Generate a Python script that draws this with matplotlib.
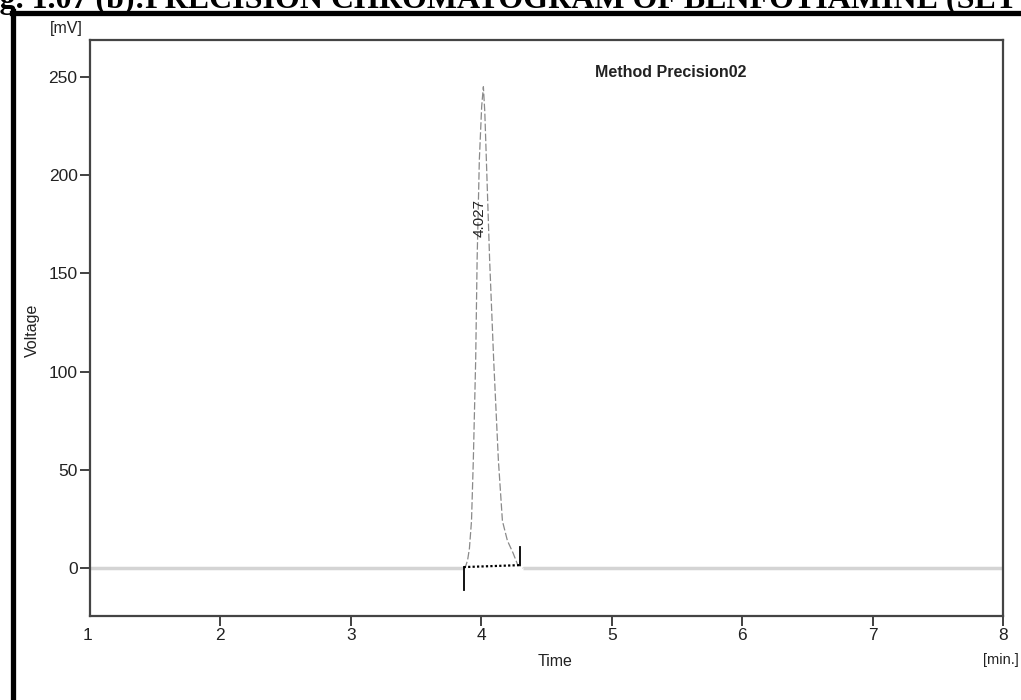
import matplotlib
matplotlib.use('Agg')
import matplotlib.pyplot as plt
from matplotlib import font_manager

# chromatogram trace (time in min, signal in mV)
times = [1.0, 3.865, 3.878, 3.895, 3.909, 3.925, 3.939, 3.957, 3.968, 3.985,
         4.003, 4.016, 4.027, 4.039, 4.064, 4.095, 4.131, 4.162, 4.200,
         4.244, 4.277, 4.32, 8.0]
volts = [0.0, 0.0, 0.5, 4.0, 10.0, 24.0, 55.0, 105.9, 156.8, 207.7,
         235.0, 245.0, 232.0, 207.7, 156.8, 105.9, 55.0, 24.0, 14.0,
         7.6, 2.0, 0.0, 0.0]

# integration marks
peak_start = 3.865
peak_end = 4.30
base_start = 0.5
base_end = 1.5
peak_label = '4.027'
peak_label_pos = (3.988, 178)

xticks = [2, 3, 4, 5, 6, 7, 8]
yticks = [0, 50, 100, 150, 200, 250]

names = set(f.name for f in font_manager.fontManager.ttflist)
narrow = 'Liberation Sans Narrow' if 'Liberation Sans Narrow' in names else 'Liberation Sans'

fig = plt.figure(figsize=(10.21, 7.00), dpi=100)

# scanned page caption, cut off at the top
fig.text(-0.028, 1 - 8 / 700, 'Fig. 1.07 (b):PRECISION CHROMATOGRAM OF BENFOTIAMINE (SET 2)',
         family='Liberation Serif', weight='bold', fontsize=23, va='baseline', ha='left')

# thick frame of the scanned page
fig.add_artist(plt.Line2D([12 / 1021, 1.0], [1 - 12.5 / 700, 1 - 12.5 / 700],
                          color='black', lw=3.8, transform=fig.transFigure))
fig.add_artist(plt.Line2D([12.5 / 1021, 12.5 / 1021], [0.0, 1 - 10.5 / 700],
                          color='black', lw=3.8, transform=fig.transFigure))

ax = fig.add_axes([90 / 1021, 1 - 616 / 700, 913 / 1021, 576 / 700])

n = len(times)
i0 = 1
i1 = n - 2
# flat baseline parts, light grey
ax.plot(times[:i0 + 1], volts[:i0 + 1], color='#d4d4d4', lw=2.5, solid_capstyle='butt')
ax.plot(times[i1:], volts[i1:], color='#d4d4d4', lw=2.5, solid_capstyle='butt')
# the peak, drawn faint and broken as in the scan
ax.plot(times[i0:i1 + 1], volts[i0:i1 + 1], color='#8a8a8a', lw=0.9, ls=(0, (6, 2)))

ax.plot([peak_start, peak_end], [base_start, base_end], color='black', lw=1.6, ls=(0, (1, 1)))
ax.plot([peak_start, peak_start], [base_start, -11], color='black', lw=1.3)
ax.plot([peak_end, peak_end], [base_end, 10.5], color='black', lw=1.3)

ax.text(peak_label_pos[0], peak_label_pos[1], peak_label, rotation=90, ha='center', va='center',
        family=narrow, fontsize=11, color='#222222')

ax.text(0.553, 0.944, 'Method Precision02', transform=ax.transAxes, ha='left', va='center',
        family=narrow, weight='bold', fontsize=11.5, color='#222222')

ax.set_xlim(1, 8)
ax.set_ylim(-24.4, 268.8)
ax.set_xticks(xticks)
ax.set_yticks(yticks)
ax.tick_params(direction='out', length=7, width=1.3, color='#333333', labelsize=12.5,
               labelcolor='#222222', pad=2)
for lab in ax.get_xticklabels() + ax.get_yticklabels():
    lab.set_family(narrow)
for s in ax.spines.values():
    s.set_color('#444444')
    s.set_linewidth(1.6)

fig.text(538 / 1021, 1 - 662 / 700, 'Time', family=narrow, fontsize=11.5, color='#222222',
         ha='left', va='center')
fig.text(983 / 1021, 1 - 660 / 700, '[min.]', family=narrow, fontsize=10.5, color='#222222',
         ha='left', va='center')
fig.text(66 / 1021, 1 - 28 / 700, '[mV]', family=narrow, fontsize=11.5, color='#222222',
         ha='center', va='center')
fig.text(32 / 1021, 1 - 330 / 700, 'Voltage', family=narrow, fontsize=11.5, color='#222222',
         rotation=90, ha='center', va='center')

fig.text(90 / 1021 - 0.002, 1 - 636 / 700, '1', family=narrow, fontsize=12.5, color='#222222',
         ha='center', va='center')

fig.savefig('out.png', dpi=100)
